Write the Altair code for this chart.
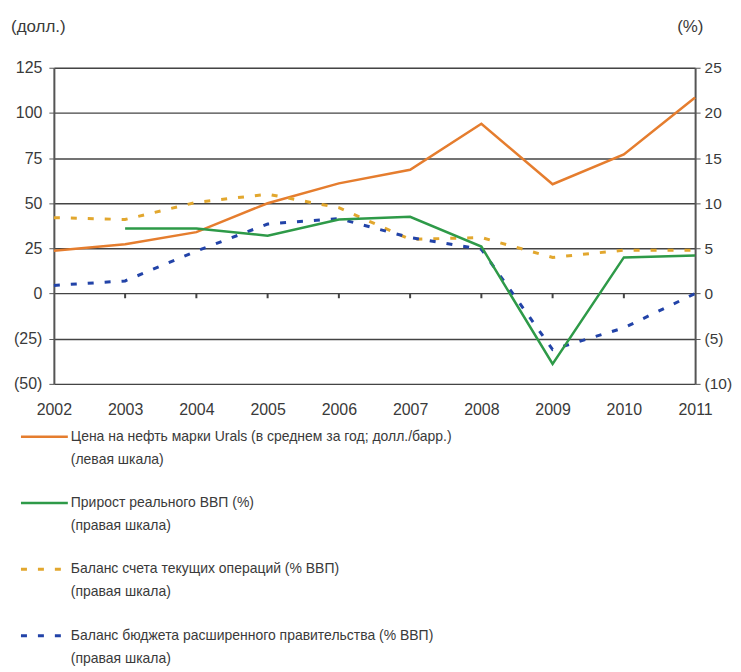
import altair as alt
import pandas as pd

years = [2002, 2003, 2004, 2005, 2006, 2007, 2008, 2009, 2010, 2011]
urals = [23.7, 27.3, 34.0, 50.0, 61.0, 68.5, 94.0, 60.5, 77.0, 108.5]
gdp_years = [2003, 2004, 2005, 2006, 2007, 2008, 2009, 2010, 2011]
gdp_growth = [7.2, 7.2, 6.4, 8.2, 8.5, 5.2, -7.8, 4.0, 4.2]
current_account = [8.4, 8.2, 10.1, 11.0, 9.5, 6.0, 6.2, 4.0, 4.8, 4.8]
budget_balance = [0.9, 1.4, 4.7, 7.7, 8.3, 6.2, 4.9, -6.2, -3.8, 0.0]
tick_years = [2003, 2004, 2005, 2006, 2007, 2008, 2009, 2010]

legend_labels = [
    ["Цена на нефть марки Urals (в среднем за год; долл./барр.)", "(левая шкала)"],
    ["Прирост реального ВВП (%)", "(правая шкала)"],
    ["Баланс счета текущих операций (% ВВП)", "(правая шкала)"],
    ["Баланс бюджета расширенного правительства (% ВВП)", "(правая шкала)"],
]
colors = ["#E57D2E", "#2E9A48", "#E2A72E", "#2243A8"]
dashes = [[1, 0], [1, 0], [6, 11], [6, 11]]

FONT = "Liberation Sans"
TXT = "#3a3a3a"
W, H = 643, 317

df_oil = pd.DataFrame({"year": years, "v": urals})
df_gdp = pd.DataFrame({"year": gdp_years, "v": gdp_growth})
df_ca = pd.DataFrame({"year": years, "v": current_account})
df_bb = pd.DataFrame({"year": years, "v": budget_balance})
df_ticks = pd.DataFrame({"year": tick_years, "y0": [0] * len(tick_years), "y1": [-2.6] * len(tick_years)})

xscale = alt.Scale(domain=[2002, 2011], nice=False, zero=False)
lscale = alt.Scale(domain=[-50, 125], nice=False)
rscale = alt.Scale(domain=[-10, 25], nice=False)

paren = "datum.value < 0 ? '(' + abs(datum.value) + ')' : '' + datum.value"

x_axis = alt.Axis(values=years, format="d", ticks=False, domain=False, grid=False,
                  labelFlush=False, labelOverlap=False,
                  labelFont=FONT, labelFontSize=16, labelColor=TXT, labelPadding=18, title=None)

oil = alt.Chart(df_oil).mark_line(color=colors[0], strokeWidth=2.5).encode(
    x=alt.X("year:Q", scale=xscale, axis=x_axis),
    y=alt.Y("v:Q", scale=lscale, axis=alt.Axis(
        values=list(range(-50, 126, 25)), labelExpr=paren, grid=True, gridColor="#444",
        gridWidth=1.5, domainColor="#555", domainWidth=2, tickColor="#555", tickSize=5,
        labelFont=FONT, labelFontSize=16, labelColor=TXT, labelPadding=7, title=None)),
)

ticks = alt.Chart(df_ticks).mark_rule(color="#444", strokeWidth=2).encode(
    x=alt.X("year:Q", scale=xscale),
    y=alt.Y("y0:Q", scale=lscale),
    y2="y1:Q",
)

right_axis = alt.Axis(values=list(range(-10, 26, 5)), labelExpr=paren, grid=False, orient="right",
                      domainColor="#555", domainWidth=2, tickColor="#555", tickSize=5,
                      labelFont=FONT, labelFontSize=15.5, labelColor=TXT, labelPadding=4, title=None)

ca = alt.Chart(df_ca).mark_line(color=colors[2], strokeWidth=3, strokeDash=dashes[2]).encode(
    x=alt.X("year:Q", scale=xscale),
    y=alt.Y("v:Q", scale=rscale, axis=right_axis),
)
bb = alt.Chart(df_bb).mark_line(color=colors[3], strokeWidth=3, strokeDash=dashes[3]).encode(
    x=alt.X("year:Q", scale=xscale),
    y=alt.Y("v:Q", scale=rscale, axis=right_axis),
)
gdp = alt.Chart(df_gdp).mark_line(color=colors[1], strokeWidth=2.5).encode(
    x=alt.X("year:Q", scale=xscale),
    y=alt.Y("v:Q", scale=rscale, axis=right_axis),
)

left_layer = alt.layer(oil, ticks)
right_layer = alt.layer(ca, bb, gdp)

legend_layers = []
for i in range(4):
    yy = 437 - 67 + i * 66.5
    d = pd.DataFrame([{"a": legend_labels[i][0], "b": legend_labels[i][1]}])
    line = alt.Chart(d).mark_rule(color=colors[i], strokeWidth=2.5 if i < 2 else 3,
                                  strokeDash=dashes[i]).encode(
        x=alt.value(20 - 53), x2=alt.value(67 - 53), y=alt.value(yy), y2=alt.value(yy))
    t1 = alt.Chart(d).mark_text(align="left", baseline="middle", font=FONT, fontSize=14,
                                color=TXT).encode(
        text="a:N", x=alt.value(70 - 53), y=alt.value(yy))
    t2 = alt.Chart(d).mark_text(align="left", baseline="middle", font=FONT, fontSize=14,
                                color=TXT).encode(
        text="b:N", x=alt.value(70 - 53), y=alt.value(yy + 23))
    legend_layers += [line, t1, t2]

cap = pd.DataFrame([{"l": "(долл.)", "r": "(%)"}])
cap_l = alt.Chart(cap).mark_text(align="left", baseline="middle", font=FONT, fontSize=17,
                                 color=TXT).encode(text="l:N", x=alt.value(10 - 53), y=alt.value(26 - 67))
cap_r = alt.Chart(cap).mark_text(align="left", baseline="middle", font=FONT, fontSize=17,
                                 color=TXT).encode(text="r:N", x=alt.value(678 - 53), y=alt.value(26 - 67))

chart = alt.layer(left_layer, right_layer, cap_l, cap_r, *legend_layers).resolve_scale(
    y="independent"
).properties(
    width=W, height=H, autosize="none",
    padding={"left": 46, "top": 59, "right": 38, "bottom": 286},
).configure_view(stroke=None).configure(background="white")

chart.save("out.html", embed_options={"renderer": "svg", "actions": False})
